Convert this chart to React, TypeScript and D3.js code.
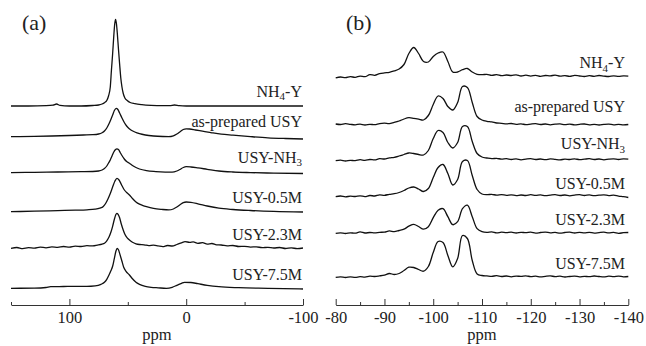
import React, { useEffect, useRef } from 'react';
import * as d3 from 'd3';

// sample names, top to bottom
const labels = ['NH4-Y', 'as-prepared USY', 'USY-NH3', 'USY-0.5M', 'USY-2.3M', 'USY-7.5M'];

// vertical stacking offsets (a.u.)
const offsetsA = [199, 166, 131.5, 93, 56.7, 16.7];
const offsetsB = [229.5, 180.5, 145.5, 109.5, 72.3, 28.5];

// (a) 27Al spectra, [ppm, intensity]
const specA_NH4Y: [number, number][] = [
  [150, 0], [135, 0], [120, 0.3], [114, 0.8], [111, 2], [108, 0.6], [100, 0], [90, 0], [80, 0.5],
  [75, 1], [72, 2], [70, 3.3], [68, 5.5], [66.5, 10], [65, 19], [64, 36], [63, 52], [62, 70],
  [61.2, 82], [60.5, 86.7], [59.8, 83], [59, 73], [58, 57], [57, 42], [56, 28], [55, 19],
  [54, 13], [52.5, 8], [50.5, 5.5], [48, 3.5], [44, 2.3], [38, 1.3], [30, 0.6], [20, 0.3],
  [14, 0.4], [10, 1], [6, 0.3], [0, 0], [-30, 0], [-60, 0], [-100, 0],
];
const specA_AsPrep: [number, number][] = [
  [150, 2.3], [130, 2.6], [115, 3], [100, 3.5], [88, 4], [80, 4.3], [75, 5], [72, 6.3], [70, 8],
  [68, 11], [66, 15.5], [64.5, 19.5], [63, 24], [61.5, 28.5], [60, 30.7], [58.5, 29.5], [57, 26],
  [55, 21], [53, 16.5], [51, 13], [49, 10.5], [47, 8.8], [44, 7], [40, 5.3], [35, 4], [28, 3],
  [20, 2.5], [15, 2.4], [11, 3.2], [8, 5], [5, 7.5], [2.5, 9.5], [0, 10.2], [-3, 10], [-8, 9],
  [-15, 7.6], [-22, 6.2], [-30, 4.8], [-40, 3.8], [-55, 2.4], [-70, 1.2], [-85, 0.5], [-100, 0],
];
const specA_NH3: [number, number][] = [
  [150, 0.8], [130, 1.2], [110, 1.5], [90, 1.8], [80, 2], [75, 2.5], [72, 3.5], [70, 5], [68, 7.5],
  [66.5, 10.5], [65, 13.5], [63.5, 17.5], [62, 21.5], [60.5, 24], [59.3, 24.7], [58, 24], [56.5, 21],
  [55, 18], [53, 14.5], [51, 12], [48.6, 10.2], [46, 8], [43, 6], [40, 4.5], [34, 2.8], [26, 1.9],
  [18, 1.4], [12, 1.3], [8, 2.5], [5, 4.3], [2.5, 6], [0, 6.8], [-4, 6.5], [-10, 5.6], [-18, 4.2],
  [-28, 2.5], [-40, 1.5], [-55, 0.9], [-75, 0.4], [-100, 0],
];
const specA_05M: [number, number][] = [
  [150, 0.3], [130, 0.8], [110, 1.4], [95, 1.8], [85, 2.2], [78, 2.8], [74, 3.8], [71, 5.5],
  [69, 8.5], [67, 13], [65, 18.5], [63, 25], [61, 31], [59.3, 33.7], [57.5, 32], [55.5, 27.5],
  [53.5, 23], [51, 19.5], [48.6, 17], [46, 13.5], [43, 10], [40, 7.8], [37, 6.4], [34, 5.3],
  [28, 3.6], [21, 2.6], [15, 2.1], [11, 3], [8, 5], [5, 7.5], [2.5, 9.3], [0, 10], [-4, 9.6],
  [-10, 8.2], [-18, 6], [-28, 3.8], [-40, 2.5], [-55, 1.5], [-75, 0.6], [-100, 0],
];
const specA_23M: [number, number][] = [
  [150, 0], [145, 0.8], [140, -0.3], [135, 0.6], [130, 0.2], [125, 1.2], [120, 0.5], [115, 1.4],
  [110, 0.9], [105, 1.8], [100, 1.2], [95, 2.2], [90, 1.8], [85, 2.6], [80, 2.4], [76, 3.2],
  [72, 4.2], [70, 5], [68, 7.5], [66, 11.5], [64.5, 16], [63, 22], [61.5, 29], [60.3, 33.5],
  [59.4, 35], [58.3, 34], [57, 30.5], [55.5, 24], [54, 18.5], [52.5, 14], [50.5, 10.5],
  [48.6, 8.3], [46, 6], [43, 4.5], [40, 3.8], [36, 3.5], [32, 2.6], [28, 3.2], [24, 2.4],
  [20, 1.6], [16, 2.8], [12, 2.3], [8, 3.8], [4, 5.5], [1, 6.6], [-3, 6], [-6, 6.4], [-10, 5],
  [-14, 5.6], [-18, 4.2], [-22, 4.8], [-26, 3.4], [-30, 3.3], [-35, 2.4], [-40, 2.8], [-45, 1.8],
  [-50, 2], [-55, 1.2], [-60, 1.5], [-65, 0.6], [-70, 1], [-75, 0.3], [-80, 0.8], [-85, -0.2],
  [-90, 0.5], [-95, -0.4], [-100, 0.3],
];
const specA_75M: [number, number][] = [
  [150, 0], [130, 0.2], [120, 0.8], [116, 1.6], [105, 1.8], [95, 2], [85, 2], [78, 2.5], [73, 4],
  [70, 6], [68, 9], [66, 13.5], [64.5, 17.5], [63, 22], [61.5, 30], [60.2, 37], [59.1, 40],
  [58, 38.5], [56.5, 33], [55, 27], [53.5, 21], [51.5, 17], [48.6, 13.3], [46, 9.5], [43, 6],
  [40, 4], [35, 2], [30, 1], [24, 0.5], [17, 0], [12, 1], [8, 3], [4, 5], [1.5, 6], [-4, 5.8],
  [-10, 4.6], [-18, 3], [-28, 1.6], [-45, 0.6], [-70, 0], [-100, -0.7],
];

// (b) 29Si spectra on a shared ppm grid
const ppmB = [
  -80, -81, -82, -83, -84, -85, -86, -87, -88, -89, -90, -91, -92, -93, -94, -95, -96, -97, -98, -99,
  -100, -101, -102, -103, -104, -105, -106, -107, -108, -109, -110, -111, -112, -113, -114, -115,
  -116, -117, -118, -119, -120, -121, -122, -123, -124, -125, -126, -127, -128, -129, -130, -131,
  -132, -133, -134, -135, -136, -137, -138, -139, -140,
];
const specB_NH4Y = [
  -2.3, -1.5, -2.2, -1.2, -1.8, -0.6, -1.2, 0.8, 0.2, 1.8,
  2.6, 3.2, 4.6, 6.5, 11, 22, 28, 22, 14, 13.5,
  19, 22.5, 23.5, 14, 3.5, 3.5, 5.8, 7, 3.5, 1.2,
  0.8, 1.2, 0.2, 0.8, -0.2, 0.5, 0, 0.6, -0.5, 0.3,
  -0.6, 0.2, -0.8, 0, -0.4, 0.4, -0.7, -0.1, -0.9, 0.1,
  -0.5, -1, -0.2, -0.8, 0, -0.6, -1, -0.3, -0.9, -0.4,
  -0.6,
];
const specB_AsPrep = [
  0.5, 0, 0.8, 0.2, -0.3, 0.4, -0.5, 0.2, -0.2, 0.9,
  1.3, 0.8, 2.2, 3.5, 5.5, 6.8, 6.2, 5.4, 4.5, 9,
  20, 28.5, 26, 18, 14.5, 22, 38, 37, 22, 8,
  4.5, 3.2, 2.6, 1.5, 1.2, 0.6, 1, 0.2, 0.7, -0.2,
  0.4, 0.8, 0, 0.5, -0.3, 0.3, 0.6, -0.2, 0.4, -0.4,
  0.2, 0.5, -0.3, 0.2, -0.5, 0.1, 0.4, -0.3, 0.2, -0.4,
  0,
];
const specB_NH3 = [
  -1.2, -0.6, -1.5, -0.8, -1.2, -0.2, -0.9, 0, -0.4, 0.8,
  0.5, 1.6, 2.2, 3.5, 5, 6.5, 6, 5, 4.5, 9,
  21, 29, 27, 17, 11.5, 17, 33, 33, 18, 6,
  2.5, 1.5, 0.8, 1.2, 0.3, 0.8, 0, 0.6, -0.3, 0.4,
  0.9, 0, 0.5, -0.2, 0.6, 0.1, -0.4, 0.4, 0, 0.7,
  -0.2, 0.3, 0.8, 0, 0.5, -0.3, 0.4, 0.7, 0, 0.6,
  0.3,
];
const specB_05M = [
  -1.2, -0.5, -1.4, -0.6, -1, -0.3, -1.1, 0, -0.5, 0.6,
  0.2, 1.2, 1.8, 3, 5, 7.5, 8.5, 6.5, 4, 7,
  18, 28, 31, 22, 10.5, 16, 34, 35, 20, 6,
  1.5, 0.8, 1.2, 0.3, 0.9, 0.2, 0.7, -0.1, 0.5, 0,
  0.8, 0.1, 0.6, -0.2, 0.4, 0.9, 0, 0.5, -0.3, 0.4,
  0.8, 0, 0.6, -0.2, 0.3, 0.7, -0.1, 0.4, -0.6, -1.2,
  -2,
];
const specB_23M = [
  -0.6, -0.2, -0.8, -0.1, -0.5, 0.8, -0.3, 0.2, -0.2, 0.4,
  0.6, 1.8, 1, 2.2, 3.5, 6.5, 8.4, 6.2, 3.5, 6,
  15, 22.5, 24, 16, 8, 11, 24, 27.5, 16, 4,
  1, 0.3, 0.8, -0.2, 0.5, 0, 0.6, -0.3, 0.4, 0,
  0.5, -0.4, 0.2, 0.6, -0.1, 0.3, -0.5, 0.2, 0.5, -0.3,
  0.3, -0.2, 0.4, -0.4, 0.1, 0.5, -0.2, 0.3, -0.6, 0,
  0.2,
];
const specB_75M = [
  -0.8, -0.3, -1, -0.4, -0.9, -0.2, -0.6, 0.3, 0, 0.6,
  1.4, 3, 2, 3, 6, 9.3, 9, 7, 5.3, 10,
  24, 35, 34, 21, 9.6, 18, 41, 38, 16, 2.5,
  1, 0.6, 0.2, 0.8, 0, 0.5, -0.3, 0.4, 0.1, 0.7,
  -0.2, 0.3, -0.4, 0.2, 0.6, -0.1, 0.3, -0.5, 0, 0.4,
  -0.3, 0.2, -0.2, 0.5, 0, -0.4, 0.3, -0.2, 0.4, -0.3,
  0,
];

const ticksA = [100, 0, -100];
const minorA = [150, 50, -50];
const ticksB = [-80, -90, -100, -110, -120, -130, -140];
const minorB = [-85, -95, -105, -115, -125, -135];

const FONT = "'Liberation Serif', 'Times New Roman', Times, serif";

const App = () => {
  const svgRef = useRef<SVGSVGElement>(null);

  useEffect(() => {
    if (!svgRef.current) return;
    const svg = d3.select(svgRef.current);
    svg.selectAll('*').remove();

    const y = d3.scaleLinear().domain([0, 300]).range([305, 5]);
    const axisY = 305;

    const seriesA = [specA_NH4Y, specA_AsPrep, specA_NH3, specA_05M, specA_23M, specA_75M];
    const seriesB = [specB_NH4Y, specB_AsPrep, specB_NH3, specB_05M, specB_23M, specB_75M]
      .map(vals => vals.map((v, i) => [ppmB[i], v] as [number, number]));

    // how far each label sits above its trace (px)
    const liftA = [9.5, 12.3, 10.8, 8.7, 8.3, 8.3];
    const liftB = [7.2, 12.8, 10.5, 6.5, 7.7, 7.2];

    const panels = [
      {
        tag: '(a)', tagX: 22,
        x: d3.scaleLinear().domain([150, -100]).range([11, 303]),
        ticks: ticksA, minor: minorA, series: seriesA, offsets: offsetsA,
        curve: d3.curveMonotoneX, labelX: 302, lift: liftA,
      },
      {
        tag: '(b)', tagX: 346,
        x: d3.scaleLinear().domain([-80, -140]).range([335.7, 628.3]),
        ticks: ticksB, minor: minorB, series: seriesB, offsets: offsetsB,
        curve: d3.curveCatmullRom, labelX: 625, lift: liftB,
      },
    ];

    panels.forEach(p => {
      const g = svg.append('g');

      // spectra
      p.series.forEach((pts, i) => {
        const line = d3.line<[number, number]>()
          .x(d => p.x(d[0]))
          .y(d => y(p.offsets[i] + d[1]))
          .curve(p.curve);
        g.append('path')
          .attr('d', line(pts))
          .attr('fill', 'none')
          .attr('stroke', '#111')
          .attr('stroke-width', 1.3)
          .attr('stroke-linejoin', 'round');

        // sample label with subscript
        const t = g.append('text')
          .attr('x', p.labelX)
          .attr('y', y(p.offsets[i]) - p.lift[i])
          .attr('text-anchor', 'end')
          .style('font-family', FONT)
          .style('font-size', '16px')
          .style('fill', '#222');
        const m = labels[i].match(/^(.*?NH)(\d)(.*)$/);
        if (m) {
          t.append('tspan').text(m[1]);
          t.append('tspan').attr('dy', 3.5).style('font-size', '11px').text(m[2]);
          if (m[3]) t.append('tspan').attr('dy', -3.5).text(m[3]);
        } else {
          t.text(labels[i]);
        }
      });

      // axis: major ticks with labels, minor ticks without
      const major = d3.axisBottom(p.x)
        .tickValues(p.ticks)
        .tickSize(-6)
        .tickSizeOuter(0)
        .tickPadding(6)
        .tickFormat(d => String(d));
      const ax = g.append('g').attr('transform', `translate(0,${axisY})`).call(major);
      ax.selectAll('path, line').attr('stroke', '#333').attr('stroke-width', 1);
      ax.selectAll('text')
        .style('font-family', FONT)
        .style('font-size', '16.5px')
        .attr('fill', '#222');

      const minor = d3.axisBottom(p.x)
        .tickValues(p.minor)
        .tickSize(-3)
        .tickSizeOuter(0)
        .tickFormat(() => '');
      const axm = g.append('g').attr('transform', `translate(0,${axisY})`).call(minor);
      axm.select('.domain').remove();
      axm.selectAll('line').attr('stroke', '#333').attr('stroke-width', 1);

      const [r0, r1] = p.x.range();
      g.append('text')
        .attr('x', (r0 + r1) / 2)
        .attr('y', 340)
        .attr('text-anchor', 'middle')
        .style('font-family', FONT)
        .style('font-size', '16.5px')
        .style('fill', '#222')
        .text('ppm');

      g.append('text')
        .attr('x', p.tagX)
        .attr('y', 30)
        .style('font-family', FONT)
        .style('font-size', '22px')
        .style('fill', '#222')
        .text(p.tag);
    });
  }, []);

  return (
    <svg
      ref={svgRef}
      width={646}
      height={346}
      style={{ position: 'absolute', left: 0, top: 0, background: '#fff' }}
    />
  );
};

export default App;
